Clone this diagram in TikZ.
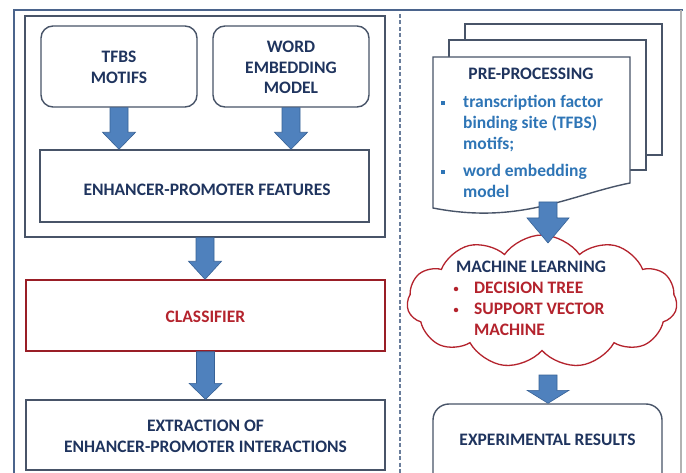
\documentclass[tikz,border=0pt]{standalone}
\usepackage{fontspec}
\setmainfont{Carlito}
\usetikzlibrary{shapes.symbols,calc}
\definecolor{navy}{RGB}{31,52,94}
\definecolor{darkred}{RGB}{180,35,45}
\definecolor{bluetxt}{RGB}{46,117,182}
\definecolor{arrowfill}{RGB}{79,129,189}
\definecolor{arrowline}{RGB}{56,98,150}
\definecolor{boxline}{RGB}{72,84,104}
\definecolor{frameline}{RGB}{75,100,140}
\definecolor{dashline}{RGB}{105,125,155}
% #1 start, #2 end, #3 head half width, #4 head length
\newcommand\blockarr[4]{%
  \filldraw[barrow]
    ($(#1)+(-9pt,0pt)$) -- ($(#1 |- #2)+(-9pt,#4)$) -- ($(#1 |- #2)+(-#3,#4)$)
    -- (#1 |- #2) -- ($(#1 |- #2)+(#3,#4)$) -- ($(#1 |- #2)+(9pt,#4)$)
    -- ($(#1)+(9pt,0pt)$) -- cycle;}
\begin{document}
\begin{tikzpicture}[x=1pt,y=-1pt,
  box/.style={draw=boxline, line width=1.4pt, fill=white},
  rbox/.style={box, rounded corners=12pt},
  lbl/.style={font=\bfseries\fontsize{17.5}{20.5}\selectfont, text=navy, align=center, inner sep=0pt},
  redlbl/.style={lbl, text=darkred},
  bluelbl/.style={lbl, text=bluetxt},
  barrow/.style={fill=arrowfill, draw=arrowline, line width=0.6pt, line join=miter},
  bsq/.style={fill=bluetxt, minimum size=4pt, inner sep=0pt},
  rdot/.style={circle, fill=darkred, minimum size=4.5pt, inner sep=0pt},
]
\useasboundingbox (0,0) rectangle (686,473);
\clip (0,0) rectangle (686,473);
\fill[white] (0,0) rectangle (686,473);
% frame
\draw[frameline, line width=1.5pt] (14,480) -- (14,10) -- (683,10);
\draw[black!30, line width=1.2pt] (681,10) -- (681,480);
\draw[dashline, line width=2pt, dash pattern=on 4pt off 2.5pt] (400,14) -- (400,480);
% left column
\node[box, minimum width=360, minimum height=221] (group) at (205,126.5) {};
\node[rbox, minimum width=156, minimum height=81] (tfbs) at (119,66.5) {};
\node[lbl] (tfbstxt) at (119,67.5) {TFBS\\MOTIFS};
\node[rbox, minimum width=156, minimum height=81] (word) at (291,66.5) {};
\node[lbl] (wordtxt) at (291,67.5) {WORD\\EMBEDDING\\MODEL};
\node[box, minimum width=329, minimum height=72] (feat) at (204.5,186) {};
\node[lbl] (feattxt) at (207,189.5) {ENHANCER-PROMOTER FEATURES};
\node[box, draw=darkred!85!black, minimum width=359, minimum height=71] (clf) at (205.5,315.5) {};
\node[redlbl] (clftxt) at (205.5,316.5) {CLASSIFIER};
\node[box, minimum width=359, minimum height=70] (extr) at (205.5,435) {};
\node[lbl] (extrtxt) at (205.5,436.5) {EXTRACTION OF\\ENHANCER-PROMOTER INTERACTIONS};
\blockarr{tfbs.south}{feat.north}{16.5pt}{17pt}
\blockarr{word.south}{feat.north}{16.5pt}{17pt}
\blockarr{group.south}{clf.north}{16.5pt}{18pt}
\blockarr{clf.south}{extr.north}{16.5pt}{16pt}
% right column: documents
\draw[box] (465,24) rectangle (662,155);
\draw[box] (449,40) rectangle (646,170);
\draw[box] (433,57) -- (630,57) -- (630,183)
  .. controls (570,195) and (520,225) .. (433,208) -- cycle;
\node[lbl, anchor=base] (pre) at (531,80) {PRE-PROCESSING};
\node[bsq] (b1) at (443,103.5) {};
\node[bsq] (b2) at (443,172.5) {};
\node[bluelbl, anchor=base west] (p1) at (463,108) {transcription factor};
\node[bluelbl, anchor=base west] (p2) at (463,129) {binding site (TFBS)};
\node[bluelbl, anchor=base west] (p3) at (463,150) {motifs;};
\node[bluelbl, anchor=base west] (p4) at (463,177) {word embedding};
\node[bluelbl, anchor=base west] (p5) at (463,198) {model};
\coordinate (docb) at (548,202);
\coordinate (cloudtop) at (548,243);
% cloud
\node[cloud, draw=darkred, line width=1.3pt, fill=white, cloud puffs=11,
  cloud puff arc=110, aspect=2, minimum width=270, minimum height=133,
  cloud ignores aspect] (cloud) at (542,301.5) {};
\blockarr{docb}{cloudtop}{21pt}{25pt}
\node[lbl, anchor=base west] (ml) at (456,273) {MACHINE LEARNING};
\node[rdot] (rb1) at (456,289) {};
\node[rdot] (rb2) at (456,310) {};
\node[redlbl, anchor=base west] (m1) at (474,294) {DECISION TREE};
\node[redlbl, anchor=base west] (m2) at (474,315) {SUPPORT VECTOR};
\node[redlbl, anchor=base west] (m3) at (474,336) {MACHINE};
% results
\node[rbox, rounded corners=16pt, minimum width=229, minimum height=90] (res) at (547.5,449) {};
\node[lbl, anchor=base] (restxt) at (547.5,445) {EXPERIMENTAL RESULTS};
\coordinate (cloudb) at (548,375);
\blockarr{cloudb}{res.north}{21pt}{13pt}
\end{tikzpicture}
\end{document}
